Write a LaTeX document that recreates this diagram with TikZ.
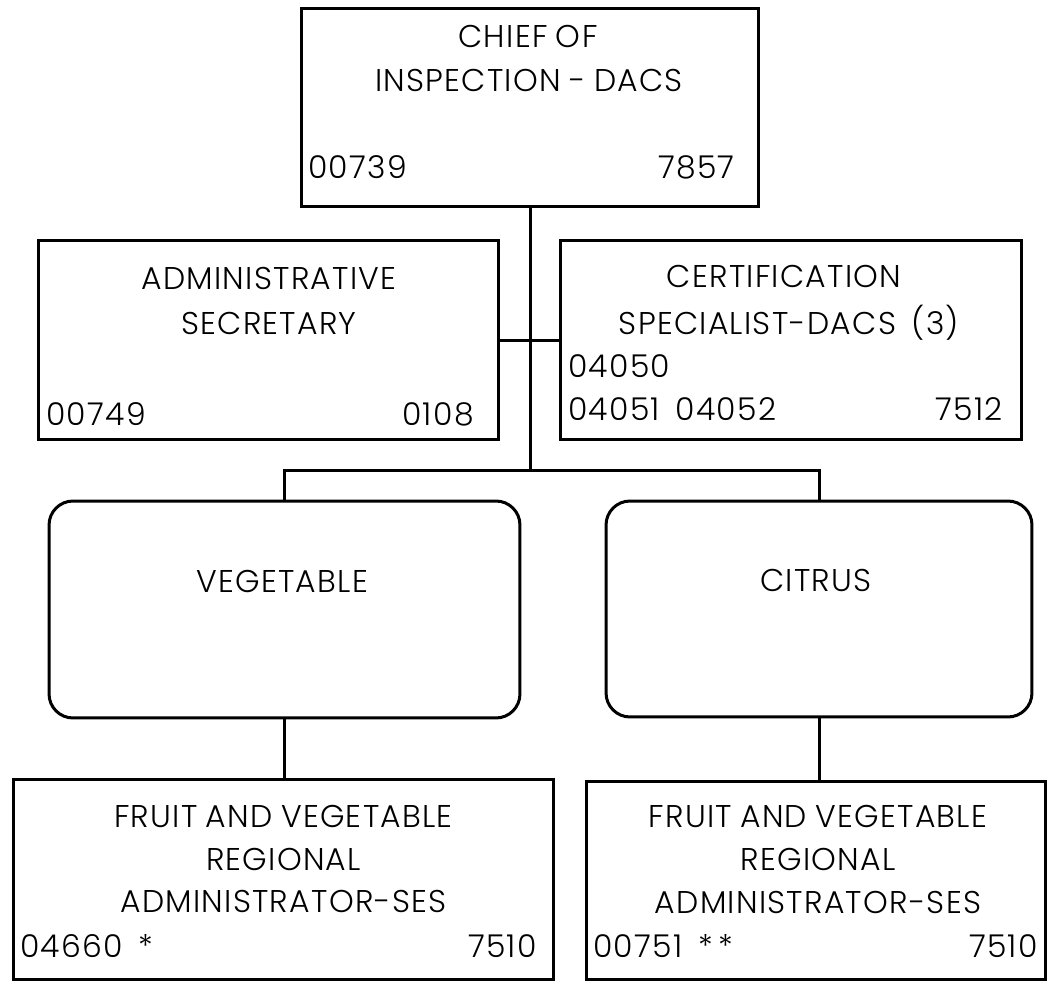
\documentclass[tikz,border=0pt]{standalone}
\usepackage{fontspec}
\setmainfont{Poppins}[UprightFont=* Light,LetterSpace=4,WordSpace=0.85]
\begin{document}
\begin{tikzpicture}[x=0.02cm,y=-0.02cm,
    box/.style={draw,rectangle,line width=0.06cm,inner sep=0pt,outer sep=0pt},
    roundbox/.style={box,rounded corners=0.48cm},
    title/.style={anchor=base,inner sep=0pt},
    numl/.style={anchor=base west,inner sep=0pt},
    numr/.style={anchor=base east,inner sep=0pt},
    wire/.style={line width=0.06cm}]
\useasboundingbox (0,0) rectangle (1051,983);
{\fontsize{17.9}{20}\selectfont

% Drawing box CHIEF
\node [box,minimum width=9.16cm,minimum height=3.98cm] (chief) at (530,107.5) {};%
\node [title] (chiefa) at (528,48) {CHIEF OF};%
\node [title] (chiefb) at (529,92) {INSPECTION - DACS};%
\node [numl] (chiefpos) at (308,179) {00739};%
\node [numr] (chiefcls) at (735,179) {7857};%

% Drawing box ADMIN
\node [box,minimum width=9.22cm,minimum height=4.00cm] (admin) at (268.5,340) {};%
\node [title] (admina) at (269,289) {ADMINISTRATIVE};%
\node [title] (adminb) at (269,334) {SECRETARY};%
\node [numl] (adminpos) at (46,425) {00749};%
\node [numr] (admincls) at (474,425) {0108};%

% Drawing box CERT
\node [box,minimum width=9.24cm,minimum height=4.00cm] (cert) at (791,340) {};%
\node [title] (certa) at (784,287) {CERTIFICATION};%
\node [title] (certb) at (789,334) {SPECIALIST-DACS\enspace(3)};%
\node [numl] (certposa) at (568,377) {04050};%
\node [numl] (certposb) at (568,420) {04051\enspace 04052};%
\node [numr] (certcls) at (1003,420) {7512};%

% Drawing rounded box VEG
\node [roundbox,minimum width=9.42cm,minimum height=4.34cm] (veg) at (284.5,609.5) {};%
\node [title] (vega) at (282,592) {VEGETABLE};%

% Drawing rounded box CIT
\node [roundbox,minimum width=8.52cm,minimum height=4.32cm] (cit) at (819,609) {};%
\node [title] (cita) at (816,591) {CITRUS};%

% Drawing box FVL
\node [box,minimum width=10.82cm,minimum height=4.02cm] (fvl) at (283.5,879.5) {};%
\node [title] (fvla) at (283.5,827) {FRUIT AND VEGETABLE};%
\node [title] (fvlb) at (283.5,870) {REGIONAL};%
\node [title] (fvlc) at (283.5,912) {ADMINISTRATOR-SES};%
\node [numl] (fvlpos) at (20,957) {04660\enspace*};%
\node [numr] (fvlcls) at (537,957) {7510};%

% Drawing box FVR
\node [box,minimum width=9.20cm,minimum height=3.98cm] (fvr) at (816,880.5) {};%
\node [title] (fvra) at (818,827) {FRUIT AND VEGETABLE};%
\node [title] (fvrb) at (818,870) {REGIONAL};%
\node [title] (fvrc) at (818,913) {ADMINISTRATOR-SES};%
\node [numl] (fvrpos) at (593,957) {00751\enspace*\,*};%
\node [numr] (fvrcls) at (1038,957) {7510};%

% Drawing lines
\coordinate (split) at (530,470);%
\draw [wire] (chief.south) -- (chief.south |- split);%
\draw [wire] (admin.east) -- (cert.west);%
\draw [wire] (veg.north) |- (split) -| (cit.north);%
\draw [wire] (veg.south) -- (veg.south |- fvl.north);%
\draw [wire] (cit.south) -- (cit.south |- fvr.north);%
}
\end{tikzpicture}
\end{document}
